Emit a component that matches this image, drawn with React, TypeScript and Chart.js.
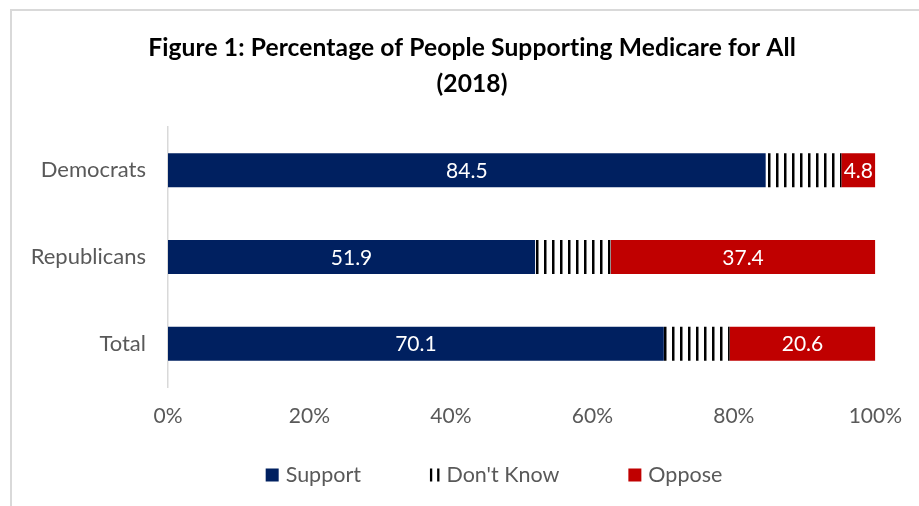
import React, { useEffect, useRef } from 'react';
import { Chart, registerables } from 'chart.js';

Chart.register(...registerables);

const categories = ['Democrats', 'Republicans', 'Total'];
const seriesNames = ['Support', "Don't Know", 'Oppose'];
const supportValues = [84.5, 51.9, 70.1];
const dontKnowValues = [10.7, 10.7, 9.3];
const opposeValues = [4.8, 37.4, 20.6];
const xTickValues = [0, 20, 40, 60, 80, 100];
const titleLines = ['Figure 1: Percentage of People Supporting Medicare for All', '(2018)'];

const NAVY = '#002060';
const RED = '#C00000';
const GRAY_TEXT = '#595959';
const FONT = 'Lato, "Open Sans", sans-serif';

export default function App() {
  const canvasRef = useRef<HTMLCanvasElement | null>(null);

  useEffect(() => {
    const canvas = canvasRef.current;
    if (!canvas) return;
    const ctx = canvas.getContext('2d')!;

    const pc = document.createElement('canvas');
    pc.width = 8;
    pc.height = 4;
    const pctx = pc.getContext('2d')!;
    pctx.fillStyle = '#ffffff';
    pctx.fillRect(0, 0, 8, 4);
    pctx.fillStyle = '#000000';
    pctx.fillRect(0, 0, 2.5, 4);
    const stripes = ctx.createPattern(pc, 'repeat')!;

    const framePlugin = {
      id: 'frame',
      beforeDraw(chart: any) {
        const c = chart.ctx;
        c.save();
        c.fillStyle = '#ffffff';
        c.fillRect(0, 0, chart.width, chart.height);
        c.fillStyle = '#d9d9d9';
        c.fillRect(10, 9, chart.width, 2);
        c.fillRect(10, 9, 2, chart.height);
        c.restore();
      },
    };

    const titlePlugin = {
      id: 'customTitle',
      afterDraw(chart: any) {
        const c = chart.ctx;
        c.save();
        c.fillStyle = '#000000';
        c.font = `bold 24.6px ${FONT}`;
        try { (c as any).letterSpacing = '0.1px'; } catch (e) {}
        c.textAlign = 'center';
        c.textBaseline = 'middle';
        c.fillText(titleLines[0], 472, 48);
        c.fillText(titleLines[1], 472, 84);
        c.restore();
      },
    };

    const labelPlugin = {
      id: 'valueLabels',
      afterDatasetsDraw(chart: any) {
        const c = chart.ctx;
        c.save();
        c.fillStyle = '#ffffff';
        c.font = `21px ${FONT}`;
        c.textAlign = 'center';
        c.textBaseline = 'middle';
        [0, 2].forEach((di) => {
          const meta = chart.getDatasetMeta(di);
          const data = chart.data.datasets[di].data as number[];
          meta.data.forEach((el: any, i: number) => {
            const cx = (el.x + el.base) / 2;
            c.fillText(data[i].toFixed(1), cx, el.y + 1);
          });
        });
        c.restore();
      },
    };

    const legendPlugin = {
      id: 'customLegend',
      afterDraw(chart: any) {
        const c = chart.ctx;
        c.save();
        c.font = `21.5px ${FONT}`;
        c.textBaseline = 'middle';
        c.textAlign = 'left';
        const markerW = [13, 9.5, 13];
        const textGap = 7;
        const itemGap = 69;
        const widths = seriesNames.map((n, i) => markerW[i] + textGap + c.measureText(n).width);
        const total = widths.reduce((a, b) => a + b, 0) + itemGap * (seriesNames.length - 1);
        let x = 494 - total / 2;
        const cy = 475;
        seriesNames.forEach((name, i) => {
          if (i === 1) {
            c.fillStyle = '#000000';
            c.fillRect(x, cy - 6.5, 2.3, 13);
            c.fillRect(x + 7.2, cy - 6.5, 2.3, 13);
          } else {
            c.fillStyle = i === 0 ? NAVY : RED;
            c.fillRect(x, cy - 6.5, 13, 13);
          }
          c.fillStyle = GRAY_TEXT;
          c.fillText(name, x + markerW[i] + textGap, cy);
          x += widths[i] + itemGap;
        });
        c.restore();
      },
    };

    const chart = new Chart(ctx, {
      type: 'bar',
      data: {
        labels: categories,
        datasets: [
          { label: seriesNames[0], data: supportValues, backgroundColor: NAVY, borderWidth: 0 },
          { label: seriesNames[1], data: dontKnowValues, backgroundColor: stripes as any, borderWidth: 0 },
          { label: seriesNames[2], data: opposeValues, backgroundColor: RED, borderWidth: 0 },
        ],
      },
      options: {
        indexAxis: 'y',
        animation: false,
        responsive: false,
        devicePixelRatio: 1,
        layout: { padding: { top: 127, right: 42, bottom: 0, left: 0 } },
        datasets: { bar: { categoryPercentage: 1, barPercentage: 0.392 } },
        plugins: {
          legend: { display: false },
          title: { display: false },
          tooltip: { enabled: false },
        },
        scales: {
          x: {
            type: 'linear',
            stacked: true,
            min: 0,
            max: 100,
            afterBuildTicks: (scale: any) => {
              scale.ticks = xTickValues.map((v) => ({ value: v }));
            },
            afterFit: (scale: any) => {
              scale.height = 119;
            },
            grid: { display: false, drawTicks: false },
            border: { display: false },
            ticks: {
              padding: 17,
              color: GRAY_TEXT,
              font: { family: FONT, size: 21 },
              callback: (v: any) => `${v}%`,
              maxRotation: 0,
            },
          },
          y: {
            type: 'category',
            stacked: true,
            afterFit: (scale: any) => {
              scale.width = 168;
            },
            grid: { display: false, drawTicks: false },
            border: { display: true, color: '#d9d9d9', width: 1.5 },
            ticks: {
              padding: 22,
              color: GRAY_TEXT,
              font: { family: FONT, size: 22 },
            },
          },
        },
      },
      plugins: [framePlugin, titlePlugin, labelPlugin, legendPlugin],
    });

    return () => chart.destroy();
  }, []);

  return (
    <div style={{ position: 'absolute', left: 0, top: 0, width: 919, height: 506 }}>
      <canvas ref={canvasRef} width={919} height={506} style={{ display: 'block' }} />
    </div>
  );
}
